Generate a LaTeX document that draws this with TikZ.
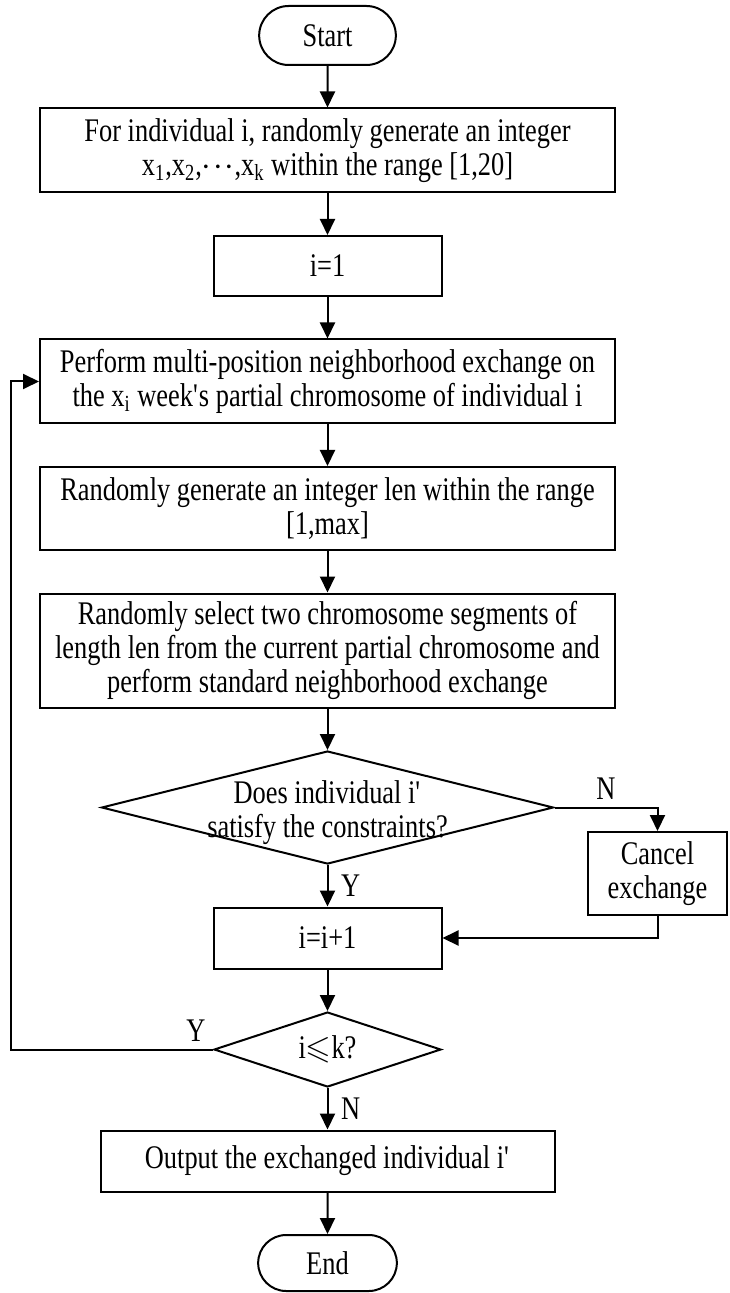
\documentclass[tikz,border=0pt]{standalone}
\usepackage{amssymb}
\usepackage{fontspec}
\setmainfont[FakeStretch=0.8]{Liberation Serif}
\usetikzlibrary{positioning,shapes.geometric,shapes.misc,arrows.meta}

\begin{document}
\begin{tikzpicture}[x=0.5pt, y=-0.5pt, node distance=20.75pt,
    line width=1pt, >={Triangle[length=8pt,width=7.5pt]},
    every node/.style={font=\fontsize{16.5}{17}\selectfont},
    term/.style={rounded rectangle, draw, minimum width=75pt, minimum height=29.5pt},
    proc/.style={rectangle, draw, align=center, minimum height=30pt, inner ysep=2pt},
    wide/.style={proc, minimum width=287.5pt},
    narrow/.style={proc, minimum width=114pt},
    decision/.style={diamond, draw, align=center, inner xsep=0pt, inner ysep=-8pt}]

  \useasboundingbox (0,0) rectangle (729,1293);

  \node[term] (start) at (327.5,35.5) {Start};
  \node[wide, minimum height=42pt] (init) [below=of start] {For individual i, randomly generate an integer\\ x\textsubscript{1},x\textsubscript{2},$\cdot\mkern-3mu\cdot\mkern-3mu\cdot$,x\textsubscript{k} within the range [1,20]};
  \node[narrow] (seti) [below=of init] {i=1};
  \node[wide, minimum height=42pt] (swap) [below=of seti] {Perform multi-position neighborhood exchange on\\ the x\textsubscript{i} week\textquotesingle s partial chromosome of individual i};
  \node[wide, minimum height=41.5pt] (len) [below=of swap] {Randomly generate an integer len within the range\\ {[1,max]}};
  \node[wide, minimum height=57pt] (segs) [below=of len] {Randomly select two chromosome segments of\\ length len from the current partial chromosome and\\ perform standard neighborhood exchange};
  \node[decision, aspect=4, minimum width=226pt, minimum height=56.5pt] (feas) [below=of segs] {\rule{0pt}{16.5pt}Does individual i\textquotesingle\\ satisfy the constraints?};
  \node[narrow, minimum height=30.5pt] (inc) [below=of feas] {i=i+1};
  \node[proc, minimum width=69.5pt, minimum height=41.5pt] (cancel) at (657.5,873.5) {Cancel\\ exchange};
  \node[decision, aspect=3, inner ysep=0pt, minimum width=113.5pt, minimum height=37.5pt] (check) [below=of inc] {i$\leqslant$k?};
  \node[proc, minimum width=227pt, minimum height=30.5pt] (out) [below=of check] {Output the exchanged individual i\textquotesingle};
  \node[term, minimum width=76pt, minimum height=28pt] (end) [below=of out] {End};
  \coordinate (back) at (11,1049.5);

  \draw[->] (start) -- (init);
  \draw[->] (init) -- (seti);
  \draw[->] (seti) -- (swap);
  \draw[->] (swap) -- (len);
  \draw[->] (len) -- (segs);
  \draw[->] (segs) -- (feas);
  \draw[->] (feas) -- node[right, xshift=3pt] (yes1) {Y} (inc);
  \draw[->] (feas.east) -| node[above, pos=0.25] (no1) {N} (cancel.north);
  \draw[->] (cancel.south) |- (inc.east);
  \draw[->] (inc) -- (check);
  \draw[->] (check.west) -- node[above left, pos=0] (yes2) {Y} (check.west -| back) |- (swap.west);
  \draw[->] (check) -- node[right, xshift=3pt] (no2) {N} (out);
  \draw[->] (out) -- (end);

\end{tikzpicture}
\end{document}
